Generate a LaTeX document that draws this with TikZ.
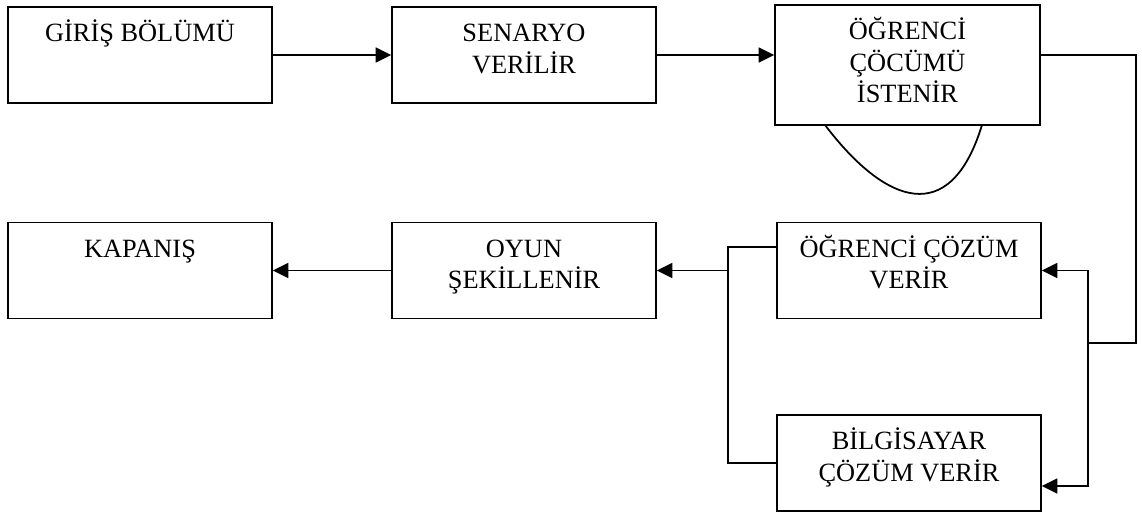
\documentclass[tikz,border=0pt]{standalone}
\usepackage{fontspec}
\setmainfont{Liberation Serif}
\usetikzlibrary{arrows.meta,positioning}
\newcommand{\tstrut}{\rule{0pt}{14pt}}
\begin{document}
\begin{tikzpicture}[
    font=\fontsize{15}{17.9}\selectfont,
    box/.style={draw=black, line width=1pt, minimum width=5.28cm,
                minimum height=1.92cm, inner sep=0pt},
    lbl/.style={align=center, anchor=north, inner sep=0pt},
    flow/.style={draw=black, line width=1pt,
                 -{Triangle[length=.31cm, width=.30cm]}},
    link/.style={draw=black, line width=1pt}
  ]
  \useasboundingbox (0,0) rectangle (22.84,10.28);

  % Upper row.
  \node[box] (giris) at (2.80,9.18) {};
  \node[box] (senaryo) at (10.48,9.18) {};
  \node[box, minimum width=5.30cm, minimum height=2.40cm] (istenir) at (18.15,8.98) {};
  \node[lbl, below=6pt of giris.north] (girisT) {\tstrut GİRİŞ BÖLÜMÜ};
  \node[lbl, below=6pt of senaryo.north] (senaryoT) {\tstrut SENARYO\\VERİLİR};
  \node[lbl, below=6pt of istenir.north] (istenirT) {\tstrut ÖĞRENCİ\\ÇÖCÜMÜ\\İSTENİR};
  \draw[flow] (giris.east) -- (senaryo.west);
  \draw[flow] (senaryo.east) -- (senaryo.east -| istenir.west);
  \draw[link] (16.50,7.78) .. controls (17.70,6.20) and (19.00,5.70) .. (19.64,7.78);

  % Lower rows.
  \node[box] (ogrenci) at (18.18,4.87) {};
  \node[box] (bilgisayar) at (18.18,1.02) {};
  \node[box] (oyun) at (10.48,4.87) {};
  \node[box] (kapanis) at (2.80,4.87) {};
  \node[lbl, below=6pt of ogrenci.north] (ogrenciT) {\tstrut ÖĞRENCİ ÇÖZÜM\\VERİR};
  \node[lbl, below=6pt of bilgisayar.north] (bilgisayarT) {\tstrut BİLGİSAYAR\\ÇÖZÜM VERİR};
  \node[lbl, below=6pt of oyun.north] (oyunT) {\tstrut OYUN\\ŞEKİLLENİR};
  \node[lbl, below=6pt of kapanis.north] (kapanisT) {\tstrut KAPANIŞ};

  % Feedback on the right side.
  \coordinate (trunk) at (22.72,3.42);
  \coordinate (split) at (21.76,3.42);
  \draw[link] (istenir.east |- senaryo.east) -| (trunk) -- (split);
  \draw[flow] (split) |- (ogrenci.east);
  \draw[flow] (split) |- ([yshift=-.46cm]bilgisayar.east);

  % Merge on the left side.
  \coordinate (merge) at (14.56,4.87);
  \draw[link] ([yshift=.47cm]ogrenci.west) -| (merge) |- (bilgisayar.west);
  \draw[flow] (merge) -- (oyun.east);
  \draw[flow] (oyun.west) -- (kapanis.east);
\end{tikzpicture}
\end{document}
